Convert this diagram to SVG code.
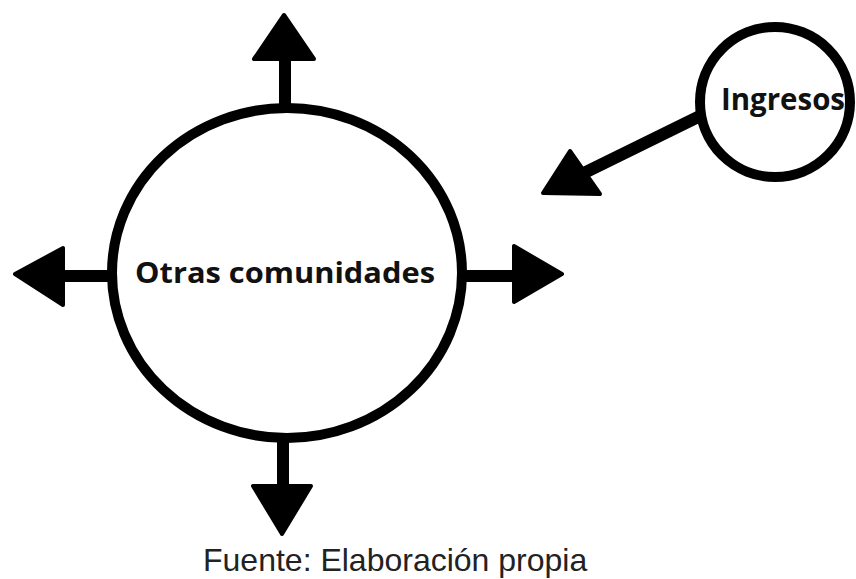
<svg xmlns="http://www.w3.org/2000/svg" width="856" height="579" viewBox="0 0 856 579">
<style>
.ring{fill:#fff;stroke:#000;stroke-width:10}
.shaft{stroke:#000;stroke-width:12;fill:none}
.head{fill:#000;stroke:#000;stroke-width:4;stroke-linejoin:round}
.lbl{font-family:"Open Sans","DejaVu Sans",sans-serif;font-weight:bold;fill:#111}
.src{font-family:"Liberation Sans",Arial,sans-serif;font-size:32px;fill:#222}
</style>
<rect width="856" height="579" fill="#fff"/>
<g id="connectors">
<line class="shaft" x1="285" y1="108" x2="285" y2="58"/>
<polygon class="head" points="284,15 254,59 314,59"/>
<line class="shaft" x1="112" y1="276" x2="62" y2="276"/>
<polygon class="head" points="15,274 63,248 63,305"/>
<line class="shaft" x1="462" y1="276" x2="514" y2="276"/>
<polygon class="head" points="562,274 514,246 514,302"/>
<line class="shaft" x1="283" y1="438" x2="283" y2="487"/>
<polygon class="head" points="282,534 253,486 311,486"/>
<line class="shaft" x1="700" y1="116" x2="584" y2="173"/>
<polygon class="head" points="543,193 570,151 600,194"/>
</g>
<g id="otras">
<ellipse class="ring" cx="287" cy="273" rx="175" ry="165"/>
<text class="lbl" x="135" y="283" font-size="29" textLength="300" lengthAdjust="spacingAndGlyphs">Otras comunidades</text>
</g>
<g id="ingresos">
<circle class="ring" cx="775" cy="102" r="75"/>
<text class="lbl" x="721" y="110" font-size="31" textLength="124" lengthAdjust="spacingAndGlyphs">Ingresos</text>
</g>
<text class="src" x="203" y="571">Fuente: Elaboración propia</text>
</svg>
